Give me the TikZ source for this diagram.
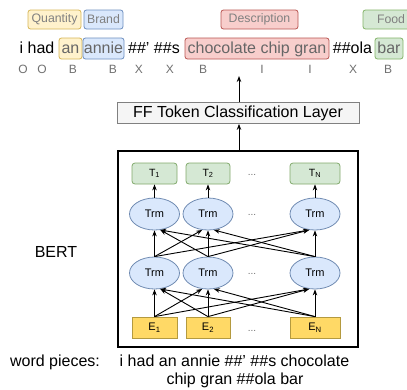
\documentclass[tikz,border=0pt]{standalone}
\usepackage{fontspec}
\setmainfont{Liberation Sans}
\usetikzlibrary{arrows.meta,shapes.geometric}
\definecolor{qfill}{HTML}{FFF2CC}\definecolor{qdraw}{HTML}{D6B656}
\definecolor{bfill}{HTML}{DAE8FC}\definecolor{bdraw}{HTML}{6C8EBF}
\definecolor{dfill}{HTML}{F8CECC}\definecolor{ddraw}{HTML}{B85450}
\definecolor{ffill}{HTML}{D5E8D4}\definecolor{fdraw}{HTML}{82B366}
\definecolor{efill}{HTML}{FFD966}\definecolor{edraw}{HTML}{B49A3F}
\definecolor{labgray}{HTML}{808080}
\definecolor{wordgray}{HTML}{666666}
\definecolor{taggray}{HTML}{707070}
\definecolor{fffill}{HTML}{F5F5F5}
\begin{document}
\begin{tikzpicture}[x=1pt,y=-1pt,
  lbl/.style={draw, rounded corners=2.5pt, minimum height=19pt, inner sep=0pt, line width=0.8pt,
    font=\fontsize{12.3}{14}\selectfont, text=labgray},
  wrd/.style={inner sep=0pt, text height=13.5pt, text depth=3.5pt, minimum height=21pt,
    font=\fontsize{16}{18}\selectfont},
  wbox/.style={wrd, draw, rounded corners=2.5pt, line width=0.8pt, text=wordgray},
  tag/.style={inner sep=0pt, anchor=base, font=\fontsize{12}{14}\selectfont, text=taggray},
  big/.style={inner sep=0pt, font=\fontsize{16}{18}\selectfont},
  tbox/.style={draw=fdraw!80!gray, fill=ffill, rounded corners=3pt, minimum height=21pt, inner sep=0pt,
    line width=0.8pt, font=\fontsize{10.5}{12}\selectfont},
  ebox/.style={draw=edraw, fill=efill, minimum height=21pt, inner sep=0pt, line width=0.8pt,
    font=\fontsize{11}{12}\selectfont},
  trm/.style={ellipse, draw=bdraw!80!gray, fill=bfill, minimum width=50pt, minimum height=32pt,
    inner sep=0pt, line width=0.8pt, font=\fontsize{11}{13}\selectfont},
  dots/.style={inner sep=0pt, text=taggray, font=\fontsize{10}{12}\selectfont},
  conn/.style={-{Stealth[length=6pt,width=4.5pt]}, line width=0.9pt}
]
\useasboundingbox (0,0) rectangle (407,389);

% top labels
\node[lbl, fill=qfill, draw=qdraw, minimum width=53pt] (lq) at (54.5,19.5) {Quantity};
\node[lbl, fill=bfill, draw=bdraw, minimum width=39pt] (lb) at (103.5,19.5) {Brand};
\node[lbl, fill=dfill, draw=ddraw, minimum width=77pt] (ld) at (259.5,19.5) {Description};
\node[lbl, fill=ffill, draw=fdraw, minimum width=52pt, text width=46pt, align=left] (lf) at (389,19.5) {\hspace*{11pt}Food};

% sentence row
\node[wrd] (w1) at (37,48.5) {i had};
\node[wbox, fill=qfill, draw=qdraw, minimum width=23pt] (w2) at (70.5,48.5) {an};
\node[wbox, fill=bfill, draw=bdraw, minimum width=41pt] (w3) at (103.5,48.5) {annie};
\node[wrd] (w4) at (154,48.5) {\#\#' \#\#s};
\node[wbox, fill=dfill, draw=ddraw, minimum width=144pt] (w5) at (257,48.5) {chocolate chip gran};
\node[wrd] (w6) at (352.5,48.5) {\#\#ola};
\node[wbox, fill=ffill, draw=fdraw, minimum width=28pt] (w7) at (389,48.5) {bar};

% tags
\node[tag] (t1) at (23,73) {O};
\node[tag] (t2) at (42,73) {O};
\node[tag] (t3) at (73,73) {B};
\node[tag] (t4) at (113,73) {B};
\node[tag] (t5) at (139,73) {X};
\node[tag] (t6) at (170,73) {X};
\node[tag] (t7) at (203,73) {B};
\node[tag] (t8) at (262,73) {I};
\node[tag] (t9) at (310,73) {I};
\node[tag] (t10) at (353,73) {X};
\node[tag] (t11) at (388,73) {B};

% FF layer
\node[draw=gray, fill=fffill, line width=0.8pt, minimum width=242pt, minimum height=21pt, inner sep=0pt,
  font=\fontsize{16}{18}\selectfont] (ff) at (238,113) {FF Token Classification Layer};
\coordinate (top) at (239,76);
\draw[conn] (ff.north -| top) -- (top);

% BERT box
\draw[line width=2pt] (118,151) rectangle (358,347);
\coordinate (bertTop) at (239,151);
\draw[conn] (bertTop) -- (ff.south -| bertTop);
\node[big] (bert) at (56,252) {BERT};

% T boxes
\node[tbox, minimum width=45pt] (T1) at (154.5,173.5) {T\textsubscript{1}};
\node[tbox, minimum width=44pt] (T2) at (208,173.5) {T\textsubscript{2}};
\node[tbox, minimum width=50pt] (T3) at (315,173.5) {T\textsubscript{N}};
\node[dots] (d1) at (252,175) {...};

% Trm layers
\node[trm] (U1) at (154.5,214) {Trm};
\node[trm] (U2) at (208,214) {Trm};
\node[trm] (U3) at (315,214) {Trm};
\node[dots] (d2) at (252,215) {...};
\node[trm] (L1) at (154.5,273) {Trm};
\node[trm] (L2) at (208,273) {Trm};
\node[trm] (L3) at (315,273) {Trm};
\node[dots] (d3) at (252,274) {...};

% E boxes
\node[ebox, minimum width=45pt] (E1) at (154.5,327.5) {E\textsubscript{1}};
\node[ebox, minimum width=44pt] (E2) at (208,327.5) {E\textsubscript{2}};
\node[ebox, minimum width=50pt] (E3) at (315,327.5) {E\textsubscript{N}};
\node[dots] (d4) at (252,331) {...};

% connectors
\foreach \i in {1,2,3}{
  \foreach \j in {1,2,3}{
    \pgfmathsetmacro{\ang}{\i<\j ? 250 : (\i>\j ? 290 : 270)}
    \draw[conn] (E\i.north) -- (L\j.\ang);
    \draw[conn] (L\i.north) -- (U\j.\ang);
  }
  \draw[conn] (U\i.north) -- (T\i.south);
}

% word pieces
\node[big, anchor=base] (wp) at (55,366) {word pieces:};
\node[big, anchor=base] (wl1) at (234.5,366) {i had an annie \#\#' \#\#s chocolate};
\node[big, anchor=base] (wl2) at (235,384) {chip gran \#\#ola bar};
\end{tikzpicture}
\end{document}
